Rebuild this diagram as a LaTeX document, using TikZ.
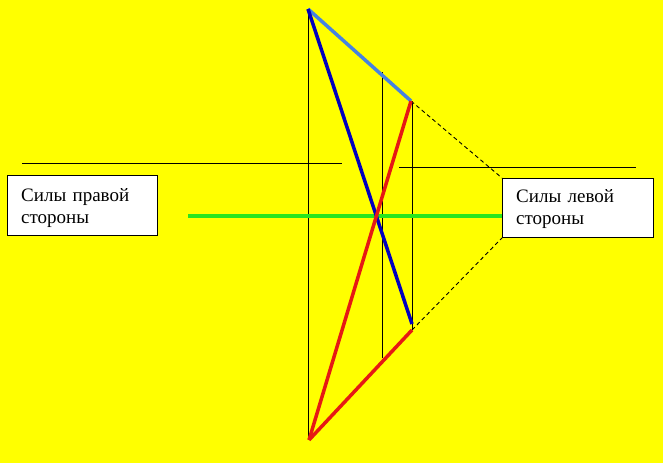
\documentclass[tikz,border=0pt]{standalone}
\usepackage{fontspec}
\setmainfont{Liberation Serif}
\definecolor{bgyellow}{RGB}{255,255,0}
\definecolor{lightblue}{RGB}{70,130,225}
\definecolor{darkblue}{RGB}{0,0,190}
\definecolor{redline}{RGB}{230,25,20}
\definecolor{greenline}{RGB}{40,230,30}
\tikzset{
  forcebox/.style={draw=black, line width=0.9pt, fill=white, anchor=north west,
    minimum height=60pt, inner sep=0pt},
  boxtext/.style={anchor=base west, inner sep=0pt, text width=124pt, align=left,
    font=\fontsize{19}{22}\selectfont},
  thinline/.style={line width=0.9pt, color=black},
}
\begin{document}
\begin{tikzpicture}[x=1pt, y=-1pt]
			%%%%% START %%%%%
			
			\fill[bgyellow] (0, 0) rectangle (663, 463);
			\useasboundingbox (0, 0) rectangle (663, 463);
			
			\coordinate (top) at (308, 9);
			\coordinate (bottom) at (309, 440);
			\coordinate (upper) at (411, 101);
			\coordinate (blueend) at (412, 324);
			\coordinate (redend) at (412, 330);
			
			\node[forcebox, minimum width=150pt] (right) at (7, 175) {};
			\node[boxtext] (righttext) at (21, 201) {Силы правой\\стороны};
			\node[forcebox, minimum width=151pt, minimum height=59pt] (left) at (502, 178) {};
			\node[boxtext] (lefttext) at (516, 202) {Силы левой\\стороны};
			
			\draw[thinline] (308, 9) -- (308, 440);
			\draw[thinline] (382, 72) -- (382, 358);
			\draw[thinline] (412, 101) -- (412, 330);
			
			\draw[thinline] (22, 163) -- (342, 163);
			\draw[thinline] (399, 167) -- (636, 167);
			
			\draw[thinline, dash pattern=on 4pt off 3pt] (upper) -- (left.north west);
			\draw[thinline, dash pattern=on 4pt off 3pt] (redend) -- (left.south west);
			
			\draw[line width=3.5pt, color=greenline] (188, 216) -- (left.west |- 0, 216);
			
			\draw[line width=3.5pt, color=lightblue] (top) -- (upper);
			\draw[line width=3.5pt, color=darkblue] (top) -- (blueend);
			\draw[line width=3.5pt, color=redline] (bottom) -- (upper);
			\draw[line width=3.5pt, color=redline] (bottom) -- (redend);
			
			%%%%% END %%%%%
\end{tikzpicture}
\end{document}
